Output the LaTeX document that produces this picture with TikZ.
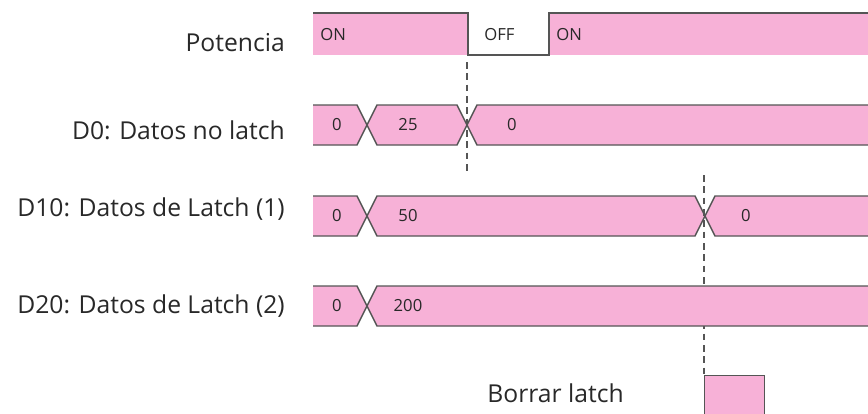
\documentclass[tikz,border=0pt]{standalone}
\usepackage{fontspec}
\setmainfont{Open Sans}
\usetikzlibrary{positioning}

\definecolor{latchpink}{RGB}{247,177,215}
\definecolor{wirecol}{RGB}{85,85,85}
\definecolor{textcol}{RGB}{40,40,40}

\begin{document}
\begin{tikzpicture}[x=0.75pt, y=-0.75pt,
        sig/.style={fill=latchpink},
        wire/.style={draw=wirecol, line width=1.1pt},
        val/.style={font=\fontsize{12.5}{14}\selectfont, text=textcol, inner sep=0pt},
        signame/.style={font=\fontsize{18.5}{22}\selectfont, text=textcol, anchor=east, inner sep=0pt},
        cut/.style={draw=wirecol, line width=1.2pt, dash pattern=on 5pt off 3.5pt}]
    \useasboundingbox (0,0) rectangle (868,414);

    % signal names
    \node[signame] (pot) at (285,43)  {Potencia};
    \node[signame] (d0)  at (285,130) {D0: Datos no latch};
    \node[signame] (d10) at (285,209) {D10: Datos de Latch (1)};
    \node[signame] (d20) at (285,306) {D20: Datos de Latch (2)};

    % Potencia
    \fill[sig] (313,13) rectangle (468,55);
    \fill[sig] (549,13) rectangle (870,55);
    \draw[wire] (313,13) -- (468,13) -- (468,55) -- (549,55) -- (549,13) -- (870,13);
    \node[val, anchor=west] (on1) at (320,35) {ON};
    \node[val, anchor=west] (off) at (484,35) {OFF};
    \node[val, anchor=west] (on2) at (556,35) {ON};

    % D0
    \fill[sig] (313,105) -- (357,105) -- (367,125) -- (377,105) -- (457,105) -- (467,125) -- (477,105) -- (870,105)
        -- (870,145) -- (477,145) -- (467,125) -- (457,145) -- (377,145) -- (367,125) -- (357,145) -- (313,145) -- cycle;
    \draw[wire] (313,105) -- (357,105) -- (367,125) -- (377,105) -- (457,105) -- (467,125) -- (477,105) -- (870,105);
    \draw[wire] (313,145) -- (357,145) -- (367,125) -- (377,145) -- (457,145) -- (467,125) -- (477,145) -- (870,145);
    \node[val] (d0a) at (337,125) {0};
    \node[val] (d0b) at (408,125) {25};
    \node[val] (d0c) at (512,125) {0};

    % D10
    \fill[sig] (313,196) -- (357,196) -- (367,216) -- (377,196) -- (695,196) -- (705,216) -- (715,196) -- (870,196)
        -- (870,236) -- (715,236) -- (705,216) -- (695,236) -- (377,236) -- (367,216) -- (357,236) -- (313,236) -- cycle;
    \draw[wire] (313,196) -- (357,196) -- (367,216) -- (377,196) -- (695,196) -- (705,216) -- (715,196) -- (870,196);
    \draw[wire] (313,236) -- (357,236) -- (367,216) -- (377,236) -- (695,236) -- (705,216) -- (715,236) -- (870,236);
    \node[val] (d10a) at (337,216) {0};
    \node[val] (d10b) at (408,216) {50};
    \node[val] (d10c) at (746,216) {0};

    % latch clear pulse
    \node[draw=wirecol, fill=latchpink, line width=1.1pt, minimum width=45pt, minimum height=34pt,
          anchor=north west, inner sep=0pt] (clr) at (704,375) {};
    \node[signame, left=60pt of clr.west, yshift=3.5pt] (clrname) {Borrar latch};

    % power-off and clear instants
    \coordinate (cut1a) at (467,62);
    \coordinate (cut1b) at (467,172);
    \coordinate (cut2a) at (704,175);
    \draw[cut] (cut1a) -- (cut1b);
    \draw[cut] (cut2a) -- (clr.north west);

    % D20
    \fill[sig] (313,286) -- (357,286) -- (367,306) -- (377,286) -- (870,286)
        -- (870,326) -- (377,326) -- (367,306) -- (357,326) -- (313,326) -- cycle;
    \draw[wire] (313,286) -- (357,286) -- (367,306) -- (377,286) -- (870,286);
    \draw[wire] (313,326) -- (357,326) -- (367,306) -- (377,326) -- (870,326);
    \node[val] (d20a) at (337,306) {0};
    \node[val] (d20b) at (408,306) {200};
\end{tikzpicture}
\end{document}
